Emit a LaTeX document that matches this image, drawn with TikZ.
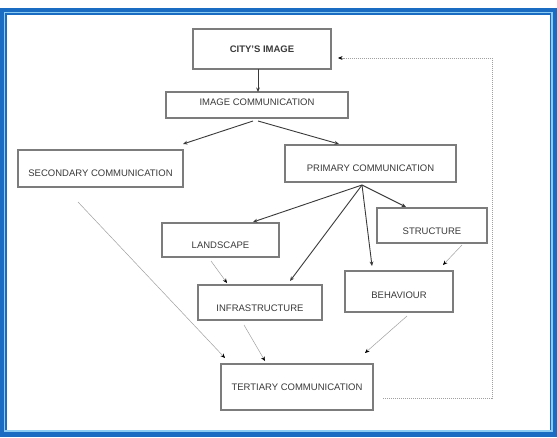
\documentclass[tikz,border=0pt]{standalone}
\usepackage{fontspec}
\setmainfont{Liberation Sans}
\usetikzlibrary{arrows.meta,calc}
\definecolor{framedark}{HTML}{1A6CC2}
\definecolor{framelight}{HTML}{8CCBF2}
\definecolor{boxline}{HTML}{7C7C7C}
\definecolor{txt}{HTML}{3A3A3A}
\definecolor{thin}{HTML}{A0A0A0}
\tikzset{
  box/.style={draw=boxline, line width=1.1pt, fill=white, inner sep=0pt, outer sep=0pt},
  lbl/.style={font=\fontsize{9.5}{11}\selectfont, text=txt, inner sep=0pt},
  solidarrow/.style={draw=txt, line width=0.9pt, -{Stealth[length=4.5pt,width=3.8pt]}},
  thinarrow/.style={draw=thin, line width=0.5pt, -{Stealth[length=4.5pt,width=3.8pt,color=black,fill=black]}},
  fbline/.style={draw=thin, line width=0.6pt, dash pattern=on 1.2pt off 0.8pt},
}
\begin{document}
\begin{tikzpicture}[x=1pt,y=-1pt]
\useasboundingbox (0,0) rectangle (557,437);
% frame
\fill[framedark] (0,8) rectangle (557,437);
\draw[framelight, line width=1.3pt] (4.5,12.5) rectangle (552,431);
\fill[white] (7,15) rectangle (550,429.5);

% boxes
\node[box, minimum width=138pt, minimum height=40pt, label={[lbl,font=\fontsize{9.5}{11}\selectfont\bfseries]center:CITY'S IMAGE}] (city) at (262,49) {};
\node[box, minimum width=182pt, minimum height=26pt, label={[lbl,yshift=3pt]center:IMAGE COMMUNICATION}] (img) at (257,105) {};
\node[box, minimum width=165pt, minimum height=37pt, label={[lbl,yshift=-4.5pt]center:SECONDARY COMMUNICATION}] (sec) at (100.5,168.5) {};
\node[box, minimum width=171pt, minimum height=37pt, label={[lbl,yshift=-4.5pt]center:PRIMARY COMMUNICATION}] (pri) at (370.5,163.5) {};
\node[box, minimum width=117pt, minimum height=34pt, label={[lbl,yshift=-5pt]center:LANDSCAPE}] (land) at (220.5,240) {};
\node[box, minimum width=110pt, minimum height=35pt, label={[lbl,yshift=-5.5pt]center:STRUCTURE}] (struc) at (432,225.5) {};
\node[box, minimum width=108pt, minimum height=41pt, label={[lbl,yshift=-3.5pt]center:BEHAVIOUR}] (beh) at (399,291.5) {};
\node[box, minimum width=124pt, minimum height=35pt, label={[lbl,yshift=-5.5pt]center:INFRASTRUCTURE}] (infra) at (260,302.5) {};
\node[box, minimum width=152pt, minimum height=46pt, label={[lbl]center:TERTIARY COMMUNICATION}] (ter) at (297,387) {};

% solid arrows
\draw[solidarrow] ([xshift=-4pt]city.south) -- ([xshift=1pt]img.north);
\draw[solidarrow] ([xshift=-4pt,yshift=-3pt]img.south) -- ([yshift=6pt]sec.north east);
\draw[solidarrow] ([xshift=1pt,yshift=-3pt]img.south) -- ([xshift=-31.5pt,yshift=1pt]pri.north);
\draw[solidarrow] ([xshift=-8.5pt,yshift=-3pt]pri.south) -- ([xshift=32.5pt,yshift=1pt]land.north);
\draw[solidarrow] ([xshift=-8.5pt,yshift=-3pt]pri.south) -- ([xshift=-26pt,yshift=1pt]struc.north);
\draw[solidarrow] ([xshift=-8.5pt,yshift=-3pt]pri.south) -- ([xshift=-27pt,yshift=5pt]beh.north);
\draw[solidarrow] ([xshift=-8.5pt,yshift=-3pt]pri.south) -- ([xshift=30pt,yshift=4pt]infra.north);

% thin arrows
\draw[thinarrow] ([xshift=-22.5pt,yshift=-15pt]sec.south) -- ([xshift=4pt,yshift=6pt]ter.north west);
\draw[thinarrow] ([xshift=-9.5pt,yshift=-4pt]land.south) -- ([xshift=-33pt,yshift=2pt]infra.north);
\draw[thinarrow] ([xshift=30pt,yshift=-2pt]struc.south) -- ([xshift=44pt,yshift=6pt]beh.north);
\draw[thinarrow] ([xshift=-16pt,yshift=-5pt]infra.south) -- ([xshift=-32pt,yshift=3pt]ter.north);
\draw[thinarrow] ([xshift=8pt,yshift=-4pt]beh.south) -- ([xshift=-8pt,yshift=11pt]ter.north east);

% feedback
\coordinate (fbr) at (492,398);
\coordinate (fbt) at (492,58);
\draw[fbline] ([xshift=10pt,yshift=-11pt]ter.east) -- (fbr) -- (fbt) -- ([xshift=10pt,yshift=-9pt]city.east);
\draw[thinarrow] ([xshift=14pt,yshift=-9pt]city.east) -- ([xshift=7pt,yshift=-9pt]city.east);
\end{tikzpicture}
\end{document}
